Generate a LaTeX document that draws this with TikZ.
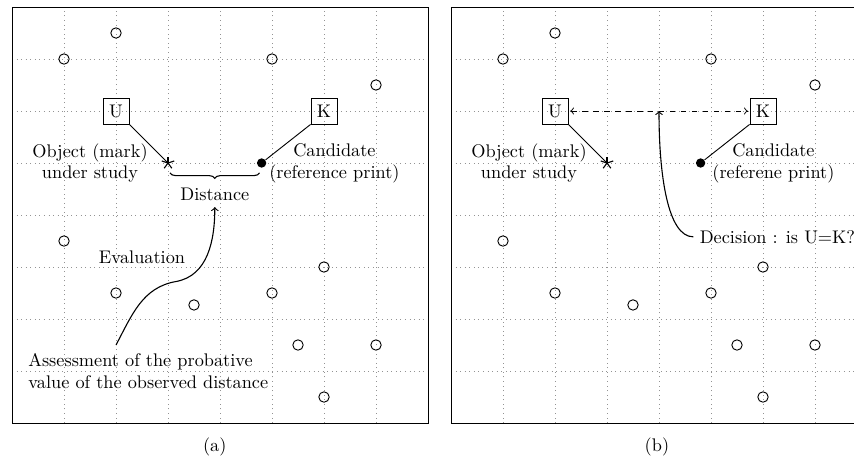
\documentclass[tikz,border=0pt]{standalone}
\usetikzlibrary{decorations.pathreplacing}
\begin{document}
\begin{tikzpicture}[
  gridline/.style={gray!85, dotted, line width=0.5pt},
  frameline/.style={draw, line width=0.5pt},
  spot/.style={draw, circle, inner sep=0pt, minimum size=0.2cm, line width=0.5pt},
  fulldot/.style={fill, circle, inner sep=0pt, minimum size=0.18cm},
  letterbox/.style={draw, inner sep=0pt, minimum size=0.5cm, line width=0.5pt},
  conn/.style={line width=0.5pt},
  bracestyle/.style={decorate, decoration={brace, mirror, amplitude=3pt}, line width=0.6pt},
]
\useasboundingbox (-0.2308,-0.75) rectangle (16.192,8.1346);
\def\spotlist{2/7.5,1/7,5/7,7/6.5,1/3.5,6/3,2/2.5,3.5/2.27,5/2.5,5.5/1.5,7/1.5,6/0.5}

% ---------------- panel (a)
\begin{scope}
\draw[gridline] (0,0) grid (8,8);
\draw[frameline] (0,0) rectangle (8,8);
\foreach \x/\y [count=\i] in \spotlist { \node[spot] (a\i) at (\x,\y) {}; }
\node[letterbox] (aU) at (2,6) {U};
\node[letterbox] (aK) at (6,6) {K};
\coordinate (aS) at (3,5);
\foreach \a in {90,162,234,306,18} \draw[line width=0.6pt] (aS) -- ++(\a:0.125);
\node[fulldot] (aD) at (4.8,5) {};
\draw[conn] (aU.south east) -- (aS);
\draw[conn] (aK.south west) -- (aD);
\node[align=center] (aObj) at (1.5,5) {Object (mark)\\under study};
\node[align=center] (aCand) at (6.2,5) {Candidate\\(reference print)};
\coordinate (aB1) at (3.04,4.81);
\coordinate (aB2) at (4.76,4.81);
\draw[bracestyle] (aB1) -- node[below=4.5pt] (aDist) {Distance} (aB2);
\coordinate (aEv) at (2,1.5);
\coordinate (aEvMid) at (3.15,2.72);
\draw[->, line width=0.6pt] (aEv) to[out=62,in=190] (aEvMid) to[out=10,in=-90] (aDist.south);
\node (aEval) at (2.5,3.19) {Evaluation};
\node[anchor=west, align=left] (aAss) at (0.19,1.0) {Assessment of the probative\\value of the observed distance};
\node (aCap) at (3.9,-0.46) {(a)};
\end{scope}

% ---------------- panel (b)
\begin{scope}[xshift=8.442cm]
\draw[gridline] (0,0) grid (8,8);
\draw[frameline] (0,0) rectangle (8,8);
\foreach \x/\y [count=\i] in \spotlist { \node[spot] (b\i) at (\x,\y) {}; }
\node[letterbox] (bU) at (2,6) {U};
\node[letterbox] (bK) at (6,6) {K};
\coordinate (bS) at (3,5);
\foreach \a in {90,162,234,306,18} \draw[line width=0.6pt] (bS) -- ++(\a:0.125);
\node[fulldot] (bD) at (4.8,5) {};
\draw[conn] (bU.south east) -- (bS);
\draw[conn] (bK.south west) -- (bD);
\node[align=center] (bObj) at (1.5,5) {Object (mark)\\under study};
\node[align=center] (bCand) at (6.2,5) {Candidate\\(referene print)};
\draw[<->, dashed, conn, shorten <=1pt, shorten >=1pt] (bU) -- coordinate[midway] (bMid) (bK);
\node[anchor=west] (bDec) at (4.66,3.58) {Decision : is U=K?};
\draw[->, line width=0.6pt] (bDec.west) .. controls +(-0.5,0) and +(0,-1.2) .. (bMid);
\node (bCap) at (3.96,-0.46) {(b)};
\end{scope}
\end{tikzpicture}
\end{document}
